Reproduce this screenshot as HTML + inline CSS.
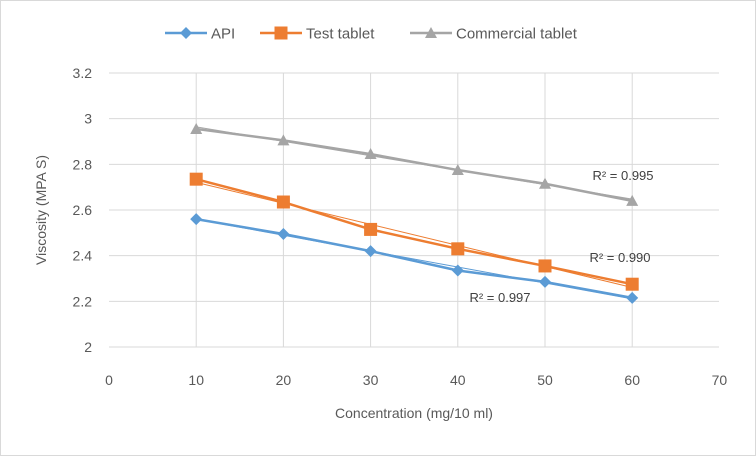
<!DOCTYPE html>
<html><head><meta charset="utf-8"><style>
html,body{margin:0;padding:0;background:#fff;}
svg{display:block;font-family:"Liberation Sans",sans-serif;}
</style></head><body>
<svg id="chart" width="756" height="456">
<rect x="0.5" y="0.5" width="755" height="455" fill="#fff" stroke="#d9d9d9"/>
<g id="grid"></g><g id="axes"></g><g id="series"></g><g id="legend"></g>
</svg>
<script>
const xCats=[10,20,30,40,50,60];
const apiVals=[2.56,2.495,2.42,2.335,2.285,2.215];
const testVals=[2.735,2.635,2.515,2.43,2.355,2.275];
const commVals=[2.955,2.905,2.845,2.775,2.715,2.64];
const xTicks=[0,10,20,30,40,50,60,70];
const yTicks=[2,2.2,2.4,2.6,2.8,3,3.2];
const yTickLabels=["2","2.2","2.4","2.6","2.8","3","3.2"];
const r2Labels=["R² = 0.997","R² = 0.990","R² = 0.995"];
const seriesNames=["API","Test tablet","Commercial tablet"];

const NS="http://www.w3.org/2000/svg";
const X=v=>109+v*8.72;
const Y=v=>347-(v-2)*228.33;
function mk(t,a,p){const e=document.createElementNS(NS,t);for(const k in a)e.setAttribute(k,a[k]);p.appendChild(e);return e;}
const grid=document.getElementById('grid'),axes=document.getElementById('axes'),ser=document.getElementById('series'),leg=document.getElementById('legend');
yTicks.forEach((v,i)=>{
 const l=mk('line',{x1:109,x2:719,y1:Y(v),y2:Y(v),stroke:'#d9d9d9','stroke-width':1},grid);
 
 
 const t=mk('text',{x:92,y:Y(v)+5,'text-anchor':'end','font-size':14,fill:'#595959'},axes);
 t.textContent=yTickLabels[i];
 
 
});
xTicks.forEach(v=>{
 if(v>0&&v<70){const l=mk('line',{x1:X(v),x2:X(v),y1:Y(3.2),y2:Y(2),stroke:'#d9d9d9','stroke-width':1},grid);
 
 }
 const t=mk('text',{x:X(v),y:385,'text-anchor':'middle','font-size':14,fill:'#595959'},axes);
 t.textContent=v;
 
 
});
let t=mk('text',{x:414,y:418,'text-anchor':'middle','font-size':14,fill:'#595959'},axes);
t.textContent="Concentration (mg/10 ml)";


t=mk('text',{x:0,y:0,'text-anchor':'middle','font-size':14,fill:'#595959',transform:'translate(46,210) rotate(-90)'},axes);
t.textContent="Viscosity (MPA S)";



const colors=['#5b9bd5','#ed7d31','#a5a5a5'];
const data=[apiVals,testVals,commVals];
const r2Pos=[[500,302],[620,262],[623,180]];
function marker(kind,cx,cy,c,p){
 if(kind===0)return mk('polygon',{points:`${cx},${cy-6} ${cx+6},${cy} ${cx},${cy+6} ${cx-6},${cy}`,fill:c},p);
 if(kind===1)return mk('rect',{x:cx-6.5,y:cy-6.5,width:13,height:13,fill:c},p);
 return mk('polygon',{points:`${cx},${cy-6} ${cx+6},${cy+5} ${cx-6},${cy+5}`,fill:c},p);
}
data.forEach((vals,s)=>{
 const g=mk('g',{},ser);
 
 
 // linear trendline
 const n=xCats.length,mx=xCats.reduce((a,b)=>a+b)/n,my=vals.reduce((a,b)=>a+b)/n;
 let sxy=0,sxx=0;xCats.forEach((x,i)=>{sxy+=(x-mx)*(vals[i]-my);sxx+=(x-mx)*(x-mx);});
 const b=sxy/sxx,a=my-b*mx;
 const tl=mk('line',{x1:X(xCats[0]),y1:Y(a+b*xCats[0]),x2:X(xCats[n-1]),y2:Y(a+b*xCats[n-1]),stroke:colors[s],'stroke-width':1},g);
 
 
 const pl=mk('polyline',{points:xCats.map((x,i)=>X(x)+','+Y(vals[i])).join(' '),fill:'none',stroke:colors[s],'stroke-width':2.5,'stroke-linejoin':'round'},g);
 
 
 xCats.forEach((x,i)=>{const m=marker(s,X(x),Y(vals[i]),colors[s],g);
  
  });
 const r=mk('text',{x:r2Pos[s][0],y:r2Pos[s][1],'text-anchor':'middle','font-size':13,fill:'#404040'},g);
 r.textContent=r2Labels[s];
 
 
});
const legX=[165,260,410];
seriesNames.forEach((nm,s)=>{
 const g=mk('g',{},leg);
 
 
 mk('line',{x1:legX[s],x2:legX[s]+42,y1:33,y2:33,stroke:colors[s],'stroke-width':2.5},g);
 marker(s,legX[s]+21,33,colors[s],g);
 const tt=mk('text',{x:legX[s]+46,y:38.5,'font-size':15,fill:'#595959'},g);
 tt.textContent=nm;
});
</script>
</body></html>
